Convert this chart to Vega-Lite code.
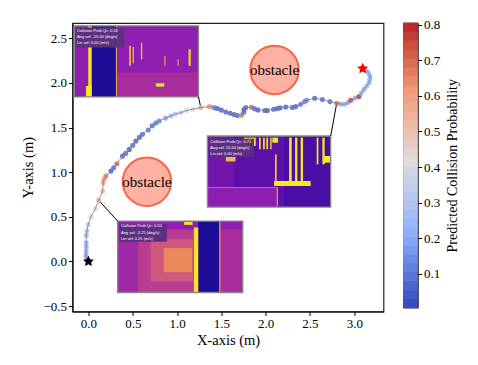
{
"$schema":"https://vega.github.io/schema/vega-lite/v6.json",
"padding":{"left":19.5,"top":18,"right":4,"bottom":4},
"background":"white",
"bounds":"flush",
"spacing":20,
"config":{"font":"Liberation Serif","axis":{"labelFont":"Liberation Serif","titleFont":"Liberation Serif","titleFontWeight":"normal","labelFontSize":13,"titleFontSize":14.5,"tickColor":"#000","domainColor":"#000","labelColor":"#000","titleColor":"#000","tickSize":4,"grid":false},"view":{"stroke":"#222","strokeWidth":1.2}},
"datasets":{
"traj":[
{"t":1,"x":-0.017,"y":0.02,"p":0.17},{"t":2,"x":-0.028,"y":0.06,"p":0.18},{"t":3,"x":-0.027,"y":0.11,"p":0.2},{"t":4,"x":-0.025,"y":0.165,"p":0.2},{"t":5,"x":-0.025,"y":0.21,"p":0.22},{"t":6,"x":-0.025,"y":0.29,"p":0.24},{"t":7,"x":-0.017,"y":0.34,"p":0.27},{"t":8,"x":-0.002,"y":0.415,"p":0.31},{"t":9,"x":0.028,"y":0.5,"p":0.36},{"t":10,"x":0.077,"y":0.59,"p":0.42},{"t":11,"x":0.115,"y":0.687,"p":0.55},{"t":12,"x":0.16,"y":0.788,"p":0.52},{"t":13,"x":0.167,"y":0.882,"p":0.58},{"t":14,"x":0.175,"y":0.92,"p":0.6},{"t":15,"x":0.197,"y":0.956,"p":0.65},{"t":16,"x":0.254,"y":1.012,"p":0.05},{"t":17,"x":0.285,"y":1.05,"p":0.07},{"t":18,"x":0.321,"y":1.095,"p":0.7},{"t":19,"x":0.385,"y":1.18,"p":0.05},{"t":20,"x":0.42,"y":1.21,"p":0.07},{"t":21,"x":0.46,"y":1.255,"p":0.05},{"t":22,"x":0.5,"y":1.3,"p":0.07},{"t":23,"x":0.535,"y":1.349,"p":0.05},{"t":24,"x":0.575,"y":1.39,"p":0.06},{"t":25,"x":0.61,"y":1.424,"p":0.07},{"t":26,"x":0.675,"y":1.472,"p":0.09},{"t":27,"x":0.72,"y":1.52,"p":0.07},{"t":28,"x":0.76,"y":1.55,"p":0.09},{"t":29,"x":0.798,"y":1.573,"p":0.12},{"t":30,"x":0.87,"y":1.605,"p":0.18},{"t":31,"x":0.93,"y":1.629,"p":0.24},{"t":32,"x":0.98,"y":1.65,"p":0.28},{"t":33,"x":1.043,"y":1.667,"p":0.34},{"t":34,"x":1.11,"y":1.69,"p":0.38},{"t":35,"x":1.175,"y":1.704,"p":0.42},{"t":36,"x":1.268,"y":1.723,"p":0.55},{"t":37,"x":1.362,"y":1.734,"p":0.6},{"t":38,"x":1.39,"y":1.73,"p":0.58},{"t":39,"x":1.425,"y":1.72,"p":0.09},{"t":40,"x":1.457,"y":1.712,"p":0.07},{"t":41,"x":1.5,"y":1.695,"p":0.05},{"t":42,"x":1.55,"y":1.674,"p":0.07},{"t":43,"x":1.6,"y":1.66,"p":0.05},{"t":44,"x":1.644,"y":1.645,"p":0.07},{"t":45,"x":1.68,"y":1.635,"p":0.07},{"t":46,"x":1.727,"y":1.637,"p":0.65},{"t":47,"x":1.752,"y":1.67,"p":0.07},{"t":48,"x":1.756,"y":1.704,"p":0.05},{"t":49,"x":1.776,"y":1.723,"p":0.07},{"t":50,"x":1.84,"y":1.727,"p":0.68},{"t":51,"x":1.875,"y":1.71,"p":0.07},{"t":52,"x":1.914,"y":1.696,"p":0.05},{"t":53,"x":1.99,"y":1.69,"p":0.07},{"t":54,"x":2.02,"y":1.689,"p":0.05},{"t":55,"x":2.09,"y":1.705,"p":0.07},{"t":56,"x":2.133,"y":1.712,"p":0.05},{"t":57,"x":2.165,"y":1.72,"p":0.07},{"t":58,"x":2.227,"y":1.73,"p":0.05},{"t":59,"x":2.3,"y":1.725,"p":0.07},{"t":60,"x":2.34,"y":1.734,"p":0.05},{"t":61,"x":2.396,"y":1.76,"p":0.09},{"t":62,"x":2.44,"y":1.79,"p":0.11},{"t":63,"x":2.464,"y":1.805,"p":0.12},{"t":64,"x":2.553,"y":1.827,"p":0.05},{"t":65,"x":2.64,"y":1.813,"p":0.07},{"t":66,"x":2.726,"y":1.79,"p":0.09},{"t":67,"x":2.802,"y":1.771,"p":0.68},{"t":68,"x":2.85,"y":1.762,"p":0.2},{"t":69,"x":2.892,"y":1.76,"p":0.22},{"t":70,"x":2.93,"y":1.78,"p":0.2},{"t":71,"x":2.96,"y":1.805,"p":0.74},{"t":72,"x":3.01,"y":1.83,"p":0.2},{"t":73,"x":3.053,"y":1.846,"p":0.76},{"t":74,"x":3.08,"y":1.885,"p":0.22},{"t":75,"x":3.11,"y":1.928,"p":0.2},{"t":76,"x":3.14,"y":1.965,"p":0.22},{"t":77,"x":3.166,"y":2.003,"p":0.2},{"t":78,"x":3.175,"y":2.04,"p":0.24},{"t":79,"x":3.177,"y":2.077,"p":0.22},{"t":80,"x":3.16,"y":2.11,"p":0.24},{"t":81,"x":3.14,"y":2.133,"p":0.22}
],
"rects":[
{"x":-0.16,"x2":1.242,"y":2.638,"y2":1.842,"z":"purple"},
{"x":0.321,"x2":1.242,"y":2.115,"y2":1.842,"z":"magenta"},
{"x":0.036,"x2":0.31,"y":2.638,"y2":1.842,"z":"blue"},
{"x":-0.002,"x2":0.036,"y":2.638,"y2":1.842,"z":"yellow"},
{"x":-0.028,"x2":0.036,"y":1.965,"y2":1.842,"z":"yellow"},
{"x":0.31,"x2":0.321,"y":2.638,"y2":1.842,"z":"gold"},
{"x":0.46,"x2":0.479,"y":2.414,"y2":2.19,"z":"gold"},
{"x":0.498,"x2":0.513,"y":2.4,"y2":2.22,"z":"gold"},
{"x":0.592,"x2":0.607,"y":2.451,"y2":2.264,"z":"gold"},
{"x":0.855,"x2":0.87,"y":2.3,"y2":2.19,"z":"orange"},
{"x":1.005,"x2":1.02,"y":2.264,"y2":2.19,"z":"orange"},
{"x":1.129,"x2":1.156,"y":2.377,"y2":2.19,"z":"gold"},
{"x":0.761,"x2":0.855,"y":1.995,"y2":1.958,"z":"yellow"},
{"x":-0.141,"x2":0.404,"y":2.62,"y2":2.396,"z":"box"},
{"x":1.343,"x2":2.734,"y":1.405,"y2":0.609,"z":"violet3"},
{"x":1.343,"x2":1.644,"y":1.405,"y2":0.609,"z":"violet1"},
{"x":1.644,"x2":2.208,"y":1.405,"y2":0.609,"z":"violet2"},
{"x":1.343,"x2":2.132,"y":0.826,"y2":0.609,"z":"purple"},
{"x":1.343,"x2":2.132,"y":0.833,"y2":0.826,"z":"orange"},
{"x":2.125,"x2":2.14,"y":0.826,"y2":0.62,"z":"orange"},
{"x":2.264,"x2":2.294,"y":1.386,"y2":0.863,"z":"yellow"},
{"x":2.332,"x2":2.358,"y":1.386,"y2":0.882,"z":"yellow"},
{"x":2.395,"x2":2.422,"y":1.386,"y2":0.882,"z":"yellow"},
{"x":2.576,"x2":2.595,"y":1.386,"y2":1.087,"z":"yellow"},
{"x":2.64,"x2":2.666,"y":1.386,"y2":1.087,"z":"yellow"},
{"x":2.658,"x2":2.726,"y":1.181,"y2":1.106,"z":"yellow"},
{"x":2.095,"x2":2.508,"y":0.901,"y2":0.845,"z":"yellow"},
{"x":2.076,"x2":2.14,"y":1.386,"y2":1.33,"z":"yellow"},
{"x":1.926,"x2":1.944,"y":1.386,"y2":1.256,"z":"yellow"},
{"x":1.971,"x2":1.99,"y":1.386,"y2":1.256,"z":"yellow"},
{"x":2.008,"x2":2.027,"y":1.386,"y2":1.256,"z":"yellow"},
{"x":2.05,"x2":2.068,"y":1.386,"y2":1.256,"z":"gold"},
{"x":2.105,"x2":2.125,"y":1.2,"y2":0.9,"z":"gold"},
{"x":1.757,"x2":1.888,"y":1.386,"y2":1.293,"z":"yellow"},
{"x":1.55,"x2":1.66,"y":1.17,"y2":1.12,"z":"gold"},
{"x":1.362,"x2":1.869,"y":1.375,"y2":1.173,"z":"box"},
{"x":0.329,"x2":1.742,"y":0.452,"y2":-0.347,"z":"magenta"},
{"x":0.329,"x2":1.742,"y":0.452,"y2":0.359,"z":"purple"},
{"x":0.329,"x2":0.555,"y":0.359,"y2":-0.347,"z":"magenta2"},
{"x":0.56,"x2":1.19,"y":0.359,"y2":-0.347,"z":"rose"},
{"x":0.7,"x2":1.18,"y":0.25,"y2":-0.22,"z":"rose2"},
{"x":0.85,"x2":1.17,"y":0.15,"y2":-0.12,"z":"orange"},
{"x":1.239,"x2":1.475,"y":0.452,"y2":-0.347,"z":"blue"},
{"x":1.19,"x2":1.239,"y":0.38,"y2":-0.347,"z":"yellow"},
{"x":1.08,"x2":1.175,"y":0.445,"y2":0.41,"z":"yellow"},
{"x":1.475,"x2":1.49,"y":0.452,"y2":-0.347,"z":"orange"},
{"x":0.348,"x2":0.885,"y":0.415,"y2":0.221,"z":"box"}
],
"frames":[
{"x":-0.16,"x2":1.242,"y":2.638,"y2":1.842},
{"x":1.343,"x2":2.734,"y":1.405,"y2":0.609},
{"x":0.329,"x2":1.742,"y":0.452,"y2":-0.347}
],
"links":[
{"x":1.242,"x2":1.268,"y":1.842,"y2":1.723},
{"x":2.734,"x2":2.802,"y":1.405,"y2":1.771},
{"x":0.329,"x2":0.115,"y":0.452,"y2":0.687}
],
"obstacles":[{"x":2.1,"y":2.145,"label":"obstacle"},{"x":0.66,"y":0.893,"label":"obstacle"}],
"stars":[{"x":0,"y":0,"who":"start"},{"x":3.095,"y":2.16,"who":"goal"}],
"notes":[
{"x":-0.13,"y":2.582,"s":"Collision Prob Qc: 0.53"},{"x":-0.13,"y":2.508,"s":"Ang vel: -15.00 (deg/s)"},{"x":-0.13,"y":2.441,"s":"Lin vel: 0.00 (m/s)"},
{"x":1.375,"y":1.34,"s":"Collision Prob Qc: 0.71"},{"x":1.375,"y":1.27,"s":"Ang vel: 15.00 (deg/s)"},{"x":1.375,"y":1.2,"s":"Lin vel: 0.00 (m/s)"},
{"x":0.367,"y":0.392,"s":"Collision Prob Qc: 0.50"},{"x":0.367,"y":0.318,"s":"Ang vel: -3.25 (deg/s)"},{"x":0.367,"y":0.25,"s":"Lin vel: 0.25 (m/s)"}
],
"bar":[
{"p":0.005,"q":0.03},{"p":0.03,"q":0.055},{"p":0.055,"q":0.08},{"p":0.08,"q":0.105},{"p":0.105,"q":0.13},{"p":0.13,"q":0.155},{"p":0.155,"q":0.18},{"p":0.18,"q":0.205},{"p":0.205,"q":0.23},{"p":0.23,"q":0.255},{"p":0.255,"q":0.28},{"p":0.28,"q":0.305},{"p":0.305,"q":0.33},{"p":0.33,"q":0.355},{"p":0.355,"q":0.38},{"p":0.38,"q":0.405},{"p":0.405,"q":0.43},{"p":0.43,"q":0.455},{"p":0.455,"q":0.48},{"p":0.48,"q":0.505},{"p":0.505,"q":0.53},{"p":0.53,"q":0.555},{"p":0.555,"q":0.58},{"p":0.58,"q":0.605},{"p":0.605,"q":0.63},{"p":0.63,"q":0.655},{"p":0.655,"q":0.68},{"p":0.68,"q":0.705},{"p":0.705,"q":0.73},{"p":0.73,"q":0.755},{"p":0.755,"q":0.78},{"p":0.78,"q":0.805}
]
},
"hconcat":[
{"width":311,"height":288.5,
"resolve":{"scale":{"fill":"independent","shape":"independent"}},
"encoding":{
"x":{"type":"quantitative","scale":{"domain":[-0.18,3.33],"nice":false,"zero":false},"axis":{"values":[0,0.5,1,1.5,2,2.5,3],"format":".1f","title":"X-axis (m)","titlePadding":3}},
"y":{"type":"quantitative","scale":{"domain":[-0.56,2.67],"nice":false,"zero":false},"axis":{"values":[-0.5,0,0.5,1,1.5,2,2.5],"format":".1f","title":"Y-axis (m)","titlePadding":7}}
},
"layer":[
{"data":{"name":"rects"},"mark":{"type":"rect"},"encoding":{"x":{"field":"x"},"x2":{"field":"x2"},"y":{"field":"y"},"y2":{"field":"y2"},"fill":{"field":"z","type":"nominal","legend":null,"scale":{"domain":["purple","magenta","magenta2","rose","rose2","orange","gold","yellow","blue","box","violet1","violet2","violet3"],"range":["#8e1fb0","#a92c9c","#9c2aa8","#b83c90","#d0587f","#ea8a5c","#e8c040","#f5e81e","#1d0c95","#5c2f80","#7314ac","#5c10a8","#480ea6"]}}}},
{"data":{"name":"frames"},"mark":{"type":"rect","fillOpacity":0,"stroke":"#888","strokeWidth":1.3},"encoding":{"x":{"field":"x"},"x2":{"field":"x2"},"y":{"field":"y"},"y2":{"field":"y2"}}},
{"data":{"name":"links"},"mark":{"type":"rule","color":"#000","strokeWidth":1},"encoding":{"x":{"field":"x"},"x2":{"field":"x2"},"y":{"field":"y"},"y2":{"field":"y2"}}},
{"data":{"name":"traj"},"mark":{"type":"circle","size":26,"opacity":0.85},"encoding":{"x":{"field":"x"},"y":{"field":"y"},"color":{"field":"p","type":"quantitative","legend":null,"scale":{"domain":[0.005,0.2,0.405,0.6,0.805],"range":["#3b4cc0","#8db0fe","#dddddd","#f49a7b","#b40426"]}}}},
{"data":{"name":"traj"},"mark":{"type":"line","color":"#808080","strokeWidth":1,"opacity":0.8},"encoding":{"x":{"field":"x"},"y":{"field":"y"},"order":{"field":"t","type":"quantitative"}}},
{"data":{"name":"obstacles"},"mark":{"type":"circle","size":2350,"fill":"#ff6347","fillOpacity":0.5,"stroke":"#ff6347","strokeWidth":2,"opacity":1},"encoding":{"x":{"field":"x"},"y":{"field":"y"}}},
{"data":{"name":"obstacles"},"mark":{"type":"text","fontSize":15,"font":"Liberation Serif","color":"#000"},"encoding":{"x":{"field":"x"},"y":{"field":"y"},"text":{"field":"label"}}},
{"data":{"name":"stars"},"mark":{"type":"point","filled":true,"opacity":1,"size":130,"strokeWidth":0},"encoding":{"x":{"field":"x"},"y":{"field":"y"},"shape":{"field":"who","legend":null,"scale":{"domain":["start","goal"],"range":["M0,-1L0.294,-0.405L0.951,-0.309L0.476,0.155L0.588,0.809L0,0.5L-0.588,0.809L-0.476,0.155L-0.951,-0.309L-0.294,-0.405Z","M0,-1L0.294,-0.405L0.951,-0.309L0.476,0.155L0.588,0.809L0,0.5L-0.588,0.809L-0.476,0.155L-0.951,-0.309L-0.294,-0.405Z"]}},"fill":{"field":"who","legend":null,"scale":{"domain":["start","goal"],"range":["#000000","#ff0000"]}}}},
{"data":{"name":"notes"},"mark":{"type":"text","fontSize":4,"font":"Liberation Sans","color":"#fff","align":"left"},"encoding":{"x":{"field":"x"},"y":{"field":"y"},"text":{"field":"s"}}}
]},
{"width":14,"height":284.5,
"data":{"name":"bar"},
"mark":{"type":"rect","strokeWidth":0.7},
"encoding":{
"y":{"field":"p","type":"quantitative","scale":{"domain":[0.005,0.805],"nice":false,"zero":false},"axis":{"orient":"right","values":[0.1,0.2,0.3,0.4,0.5,0.6,0.7,0.8],"format":".1f","title":"Predicted Collision Probability","titleFontSize":14,"titleAngle":270,"titleBaseline":"top","titlePadding":6}},
"y2":{"field":"q"},
"fill":{"field":"p","type":"quantitative","legend":null,"scale":{"domain":[0.005,0.2,0.405,0.6,0.805],"range":["#3b4cc0","#8db0fe","#dddddd","#f49a7b","#b40426"]}},
"stroke":{"field":"p","type":"quantitative","legend":null,"scale":{"domain":[0.005,0.2,0.405,0.6,0.805],"range":["#3b4cc0","#8db0fe","#dddddd","#f49a7b","#b40426"]}}
}}
]
}
